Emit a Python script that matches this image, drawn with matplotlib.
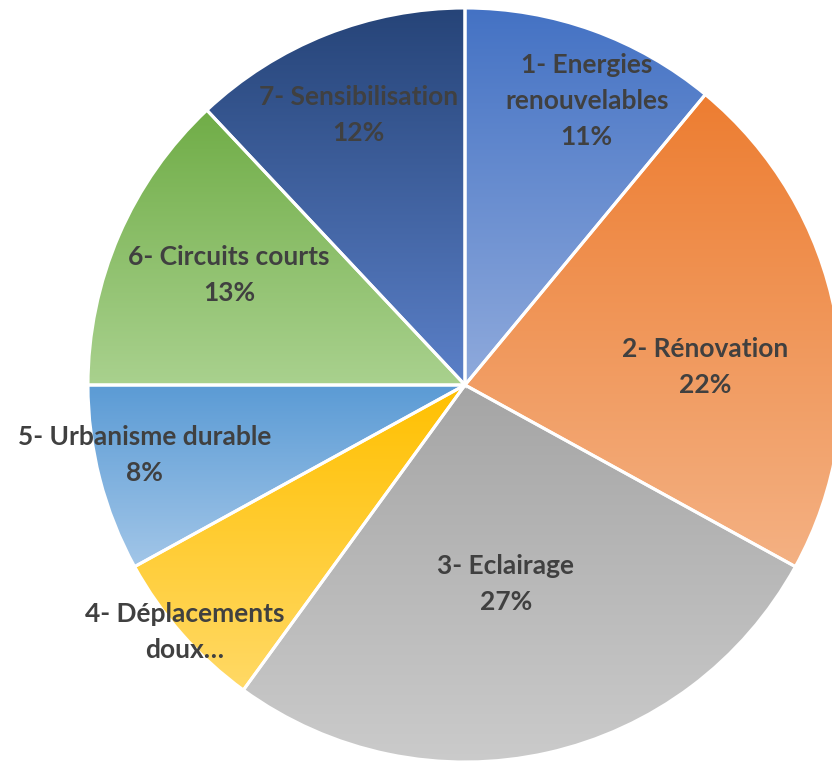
import numpy as np
import matplotlib
matplotlib.use("Agg")
import matplotlib.pyplot as plt
from matplotlib.colors import to_rgb

categories = ["1- Energies\nrenouvelables", "2- Rénovation", "3- Eclairage",
              "4- Déplacements\ndoux…", "5- Urbanisme durable",
              "6- Circuits courts", "7- Sensibilisation"]
values = [11, 22, 27, 7, 8, 13, 12]
show_pct = [True, True, True, False, True, True, True]

# gradient colours per slice: top -> bottom
top_colors = ["#4472C4", "#ED7D31", "#A5A5A5", "#FFC000", "#5B9BD5", "#70AD47", "#264478"]
bottom_colors = ["#8FAADC", "#F4B183", "#CBCBCB", "#FFD966", "#A2C6E8", "#A9D18E", "#5B80C8"]

label_radius = [0.82, 0.64, 0.54, 0.99, 0.87, 0.69, 0.77]
label_shift = [-3.4, -6.5, -1.0, 0.0, -2.0, -1.5, 0.0]  # degrees

W, H = 832, 763
cx, cy, R = 465, 385, 377

fig = plt.figure(figsize=(W / 100, H / 100), dpi=100)
ax = fig.add_axes([0, 0, 1, 1])
ax.axis("off")

wedges, _ = ax.pie(values, startangle=90, counterclock=False, radius=1,
                   colors=top_colors,
                   wedgeprops=dict(edgecolor="white", linewidth=2.2))

for w, c0, c1 in zip(wedges, top_colors, bottom_colors):
    verts = w.get_path().vertices
    x0, x1 = verts[:, 0].min(), verts[:, 0].max()
    y0, y1 = verts[:, 1].min(), verts[:, 1].max()
    top, bot = np.array(to_rgb(c0)), np.array(to_rgb(c1))
    t = np.linspace(0, 1, 256)[:, None]
    grad = bot * (1 - t) + top * t
    img = ax.imshow(grad[:, None, :].repeat(2, axis=1), extent=(x0, x1, y0, y1),
                    origin="lower", aspect="auto", zorder=w.get_zorder(),
                    interpolation="bilinear")
    img.set_clip_path(w)
    w.set_facecolor("none")
    w.set_zorder(w.get_zorder() + 0.5)

for w, lab, v, p, r, s in zip(wedges, categories, values, show_pct, label_radius, label_shift):
    mid = np.deg2rad((w.theta1 + w.theta2) / 2 + s)
    text = f"{lab}\n{v}%" if p else lab
    ax.text(r * np.cos(mid), r * np.sin(mid), text, ha="center", va="center",
            fontsize=19, fontweight="bold", color="#404040", family="Lato",
            linespacing=1.6, zorder=10)

ax.set_xlim(-cx / R, (W - cx) / R)
ax.set_ylim(-(H - cy) / R, cy / R)
ax.set_aspect("auto")
fig.savefig("out.png", dpi=100)
